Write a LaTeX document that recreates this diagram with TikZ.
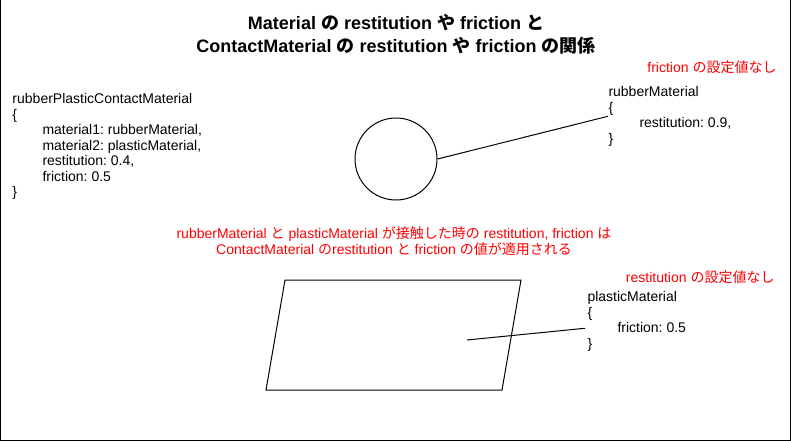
\documentclass[tikz,border=0pt]{standalone}
\usepackage{fontspec}
\setmainfont{Liberation Sans}
\newfontfamily\jp{Noto Sans CJK JP}
\usetikzlibrary{calc}
\frenchspacing

\begin{document}
\begin{tikzpicture}[x=1pt, y=-1pt, line width=1pt,
  code/.style={anchor=north west, inner sep=0pt, align=left,
    font=\fontsize{14}{15.5}\selectfont},
  note/.style={text=red, inner sep=0pt, align=center,
    font=\fontsize{14}{16}\selectfont},
]
  \useasboundingbox (0,0) rectangle (791,441);
  % 枠
  \draw (0.5,0) -- (0.5,440.5) -- (790.5,440.5) -- (790.5,0);
  % タイトル
  \node[inner sep=0pt, align=center, font=\bfseries\fontsize{18}{23}\selectfont] (title) at (396,34)
    {Material {\jp の} restitution {\jp や} friction {\jp と}\\
     ContactMaterial {\jp の} restitution {\jp や} friction {\jp の関係}};
  % ContactMaterial
  \node[code] (contact) at (12,93) {rubberPlasticContactMaterial\\
    \{\\
    \hspace*{30pt}material1: rubberMaterial,\\
    \hspace*{30pt}material2: plasticMaterial,\\
    \hspace*{30pt}restitution: 0.4,\\
    \hspace*{30pt}friction: 0.5\\
    \}};
  % rubberMaterial
  \node[circle, draw, minimum size=82pt, inner sep=0pt] (ball) at (396,159) {};
  \node[code] (rubber) at (608,86) {rubberMaterial\\
    \{\\
    \hspace*{31pt}restitution: 0.9,\\
    \}};
  \node[note, anchor=east] (rubbernote) at (777,67) {friction {\jp の設定値なし}};
  \draw (ball.east) -- (rubber.west);
  % 説明
  \node[note] (explain) at (394,241)
    {rubberMaterial {\jp と} plasticMaterial {\jp が接触した時の} restitution, friction {\jp は}\\
     ContactMaterial {\jp の}restitution {\jp と} friction {\jp の値が適用される}};
  % plasticMaterial
  \coordinate (TL) at (285,280);
  \coordinate (TR) at (521,280);
  \coordinate (BR) at (502,390);
  \coordinate (BL) at (266,390);
  \draw (TL) -- (TR) -- (BR) -- (BL) -- cycle;
  \coordinate (floor) at (467,340);
  \node[code] (plastic) at (587,291) {plasticMaterial\\
    \{\\
    \hspace*{30pt}friction: 0.5\\
    \}};
  \node[note, anchor=east] (plasticnote) at (775,277) {restitution {\jp の設定値なし}};
  \coordinate (plasticend) at ($(plastic.west)+(-2,7)$);
  \draw (floor) -- (plasticend);
\end{tikzpicture}
\end{document}
